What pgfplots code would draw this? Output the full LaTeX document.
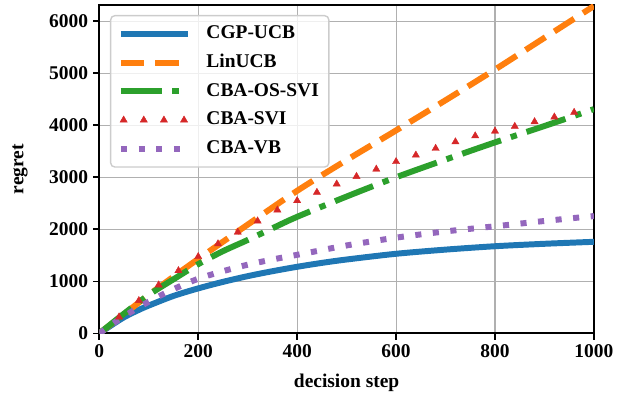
\documentclass[border=0pt]{standalone}
\usepackage{fontspec}
\setmainfont{Liberation Serif}
\usepackage{pgfplots}
\pgfplotsset{compat=1.18}
\definecolor{c0}{HTML}{1F77B4}
\definecolor{c1}{HTML}{FF7F0E}
\definecolor{c2}{HTML}{2CA02C}
\definecolor{c3}{HTML}{D62728}
\definecolor{c4}{HTML}{9467BD}
\newcommand{\fs}{\fontsize{14}{16.8}\selectfont\bfseries}
\pgfplotsset{
  lineleg/.style={legend image code/.code={\draw[##1] (0pt,0pt) -- (48pt,0pt);}},
  markleg/.style={legend image code/.code={\draw[##1] plot coordinates {(2pt,0pt) (16.5pt,0pt) (31pt,0pt) (45.5pt,0pt)};}},
}
\begin{document}
\begin{tikzpicture}
\begin{axis}[
  scale only axis, width=356.2pt, height=236.5pt,
  at={(0,0)}, anchor=south west,
  xmin=0, xmax=1000, ymin=0, ymax=6310,
  xtick={0,200,...,1000}, ytick={0,1000,...,6000},
  grid=major, grid style={color=black!31, line width=0.8pt},
  axis line style={line width=1.4pt},
  tick align=outside, major tick length=4.5pt, tick pos=left,
  tick style={line width=1.2pt, color=black},
  /pgf/number format/assume math mode=true,
  /pgf/number format/1000 sep={},
  tick label style={font=\fs},
  xlabel={decision step}, ylabel={regret},
  every axis x label/.style={at={(axis description cs:0.5,-0.1506)}, anchor=center, font=\fs},
  every axis y label/.style={at={(axis description cs:-0.16,0.5)}, rotate=90, anchor=center, font=\fs},
  legend cell align=left,
  legend style={at={(axis description cs:0.0216,0.9696)}, anchor=north west,
    draw=black!20, line width=1pt, rounded corners=3pt, fill=white,
    fill opacity=0.8, text opacity=1, font=\fs,
    inner xsep=5.2pt, inner ysep=2.75pt, column sep=9.5pt, row sep=0pt,
    nodes={inner xsep=2pt, inner ysep=3.85pt, text height=10pt, text depth=3pt}},
]
\addplot[c0, line width=4.3pt, smooth, lineleg]
  coordinates {(0,0) (25,160) (50,310) (75,430) (100,535) (150,720) (200,865) (250,990) (300,1100) (350,1195) (400,1280) (450,1355) (500,1420) (600,1530) (700,1610) (800,1675) (900,1722) (1000,1760)};
\addlegendentry{CGP-UCB}
\addplot[c1, line width=4.3pt, dash pattern=on 16.9pt off 7.7pt, smooth, lineleg]
  coordinates {(0,0) (50,370) (100,740) (150,1090) (200,1430) (300,2090) (400,2740) (500,3330) (600,3900) (700,4480) (800,5070) (900,5680) (1000,6290)};
\addlegendentry{LinUCB}
\addplot[c2, line width=4.3pt, dash pattern=on 29.5pt off 7.4pt on 4.6pt off 7.4pt, smooth, lineleg]
  coordinates {(0,0) (50,380) (100,740) (150,1040) (200,1330) (250,1580) (300,1795) (350,2020) (400,2240) (500,2630) (600,3000) (700,3340) (800,3670) (900,3985) (1000,4310)};
\addlegendentry{CBA-OS-SVI}
\addplot[c3, only marks, mark=triangle*, mark size=3pt, mark options={line width=0.3pt, solid, fill opacity=1}, markleg]
  coordinates {(40,315) (80,630) (120,930) (160,1205) (200,1475) (240,1720) (280,1945) (320,2160) (360,2370) (400,2550) (440,2710) (480,2870) (520,3015) (560,3155) (600,3300) (640,3425) (680,3555) (720,3680) (760,3795) (800,3885) (840,3977) (880,4067) (920,4157) (960,4246)};
\addlegendentry{CBA-SVI}
\addplot[c4, line width=4.3pt, dash pattern=on 4.4pt off 8.3pt, smooth, lineleg]
  coordinates {(0,0) (25,170) (50,330) (100,610) (150,850) (200,1050) (250,1195) (300,1320) (350,1420) (400,1510) (450,1600) (500,1690) (600,1840) (700,1960) (800,2058) (900,2160) (1000,2255)};
\addlegendentry{CBA-VB}
\end{axis}
\pgfresetboundingbox
\useasboundingbox (-71.5pt,-51.5pt) rectangle (386.5pt,240.1pt);
\end{tikzpicture}
\end{document}
